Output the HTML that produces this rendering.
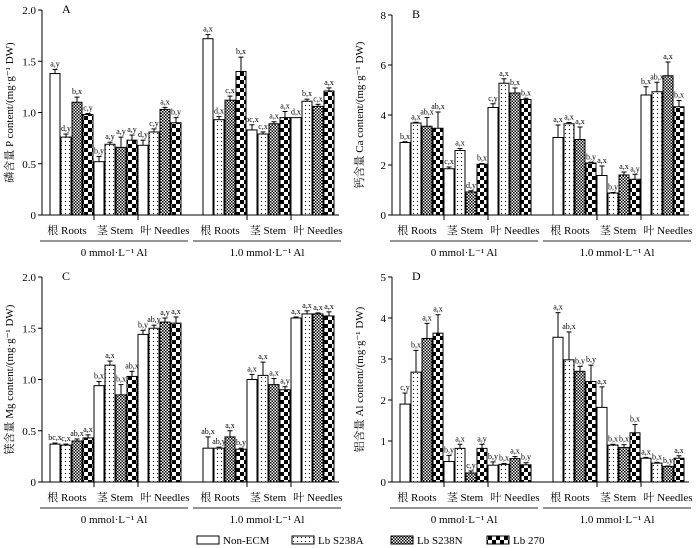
<!DOCTYPE html>
<html><head><meta charset="utf-8"><style>
body{margin:0;background:#fff;}
svg{display:block;font-family:"Liberation Serif","Noto Serif CJK SC",serif;}
</style></head><body>
<svg id="c" width="700" height="548" viewBox="0 0 700 548">
<defs>
<pattern id="pDot" width="4" height="4" patternUnits="userSpaceOnUse"><rect width="4" height="4" fill="#fff"/><rect x="1" y="1" width="1" height="1" fill="#000"/></pattern>
<pattern id="pFine" width="3" height="3" patternUnits="userSpaceOnUse"><rect width="3" height="3" fill="#fff"/><rect width="1.5" height="1.5" fill="#000"/><rect x="1.5" y="1.5" width="1.5" height="1.5" fill="#000"/></pattern>
<pattern id="pBig" width="8" height="8" patternUnits="userSpaceOnUse"><rect width="8" height="8" fill="#fff"/><rect width="4" height="4" fill="#000"/><rect x="4" y="4" width="4" height="4" fill="#000"/></pattern>
</defs>
</svg>
<script>
const series = ["Non-ECM","Lb S238A","Lb S238N","Lb 270"];
const organs = ["根 Roots","茎 Stem","叶 Needles"];
const treatments = ["0 mmol·L⁻¹ Al","1.0 mmol·L⁻¹ Al"];

const pA_vals = [1.38,0.76,1.10,0.98, 0.52,0.69,0.66,0.73, 0.68,0.81,1.03,0.90, 1.72,0.93,1.12,1.40, 0.83,0.79,0.89,0.95, 0.95,1.11,1.06,1.21];
const pA_errs = [0.04,0.03,0.05,0.01, 0.05,0.02,0.10,0.05, 0.05,0.03,0.02,0.05, 0.04,0.03,0.04,0.14, 0.05,0.02,0.02,0.06, 0.0,0.02,0.02,0.03];
const pA_labels = ["a,y","d,y","b,x","c,y","b,y","a,y","a,y","a,y","d,y","c,y","a,x","b,y","a,x","d,x","c,x","b,x","bc,x","c,x","a,x","a,x","d,x","b,x","c,x","a,x"];
const pA_ticks = ["0","0.5","1.0","1.5","2.0"];

const pB_vals = [2.9,3.68,3.55,3.47, 1.85,2.58,0.92,2.03, 4.3,5.27,4.88,4.62, 3.1,3.65,3.02,2.08, 1.58,0.88,1.6,1.43, 4.8,4.93,5.57,4.33];
const pB_errs = [0.03,0.03,0.35,0.65, 0.07,0.08,0.05,0.03, 0.15,0.18,0.2,0.05, 0.5,0.05,0.5,0.03, 0.38,0.02,0.12,0.2, 0.33,0.38,0.55,0.25];
const pB_labels = ["b,x","a,x","ab,x","ab,x","c,x","a,x","d,y","b,x","c,y","a,x","b,x","b,x","a,x","a,x","a,x","b,y","a,x","b,y","a,x","a,y","b,x","ab,x","a,x","b,x"];
const pB_ticks = ["0","2","4","6","8"];

const pC_vals = [0.37,0.36,0.40,0.43, 0.94,1.14,0.85,1.03, 1.44,1.50,1.56,1.55, 0.33,0.33,0.44,0.32, 1.0,1.04,0.95,0.90, 1.60,1.64,1.64,1.62];
const pC_errs = [0.01,0.01,0.02,0.03, 0.04,0.04,0.10,0.05, 0.04,0.03,0.04,0.06, 0.11,0.01,0.06,0.01, 0.05,0.13,0.06,0.03, 0.01,0.03,0.01,0.04];
const pC_labels = ["bc,x","c,x","ab,x","a,x","b,x","a,x","b,x","ab,x","b,y","ab,y","a,y","a,x","ab,x","ab,y","a,x","b,y","a,x","a,x","a,x","a,y","a,x","a,x","a,x","a,x"];
const pC_ticks = ["0","0.5","1.0","1.5","2.0"];

const pD_vals = [1.9,2.68,3.5,3.63, 0.5,0.82,0.22,0.82, 0.41,0.43,0.57,0.42, 3.53,2.98,2.7,2.45, 1.82,0.9,0.84,1.2, 0.58,0.46,0.38,0.58];
const pD_errs = [0.27,0.53,0.37,0.45, 0.15,0.1,0.05,0.1, 0.08,0.02,0.05,0.05, 0.6,0.68,0.12,0.4, 0.5,0.02,0.07,0.2, 0.02,0.02,0.01,0.06];
const pD_labels = ["c,y","b,x","a,x","a,x","b,y","a,x","c,y","a,y","b,y","b,x","a,x","b,y","a,x","ab,x","b,y","b,y","a,x","b,x","b,x","b,x","a,x","b,x","b,y","a,x"];
const pD_ticks = ["0","1","2","3","4","5"];

const fills = ["#fff","url(#pDot)","url(#pFine)","url(#pBig)"];
const organOffsets = [17,65,115];
const NS = "http://www.w3.org/2000/svg";
const svg = document.getElementById('c');
function mk(tag, attrs, parent){const e=document.createElementNS(NS,tag);for(const k in attrs)e.setAttribute(k,attrs[k]);(parent||svg).appendChild(e);return e;}

function panel(p){
  const g = mk('g',{});
  
  
  const max = parseFloat(p.ticks[p.ticks.length-1]);
  const y = v => p.y0 - (v/max)*(p.y0-p.yTop);
  const pitch = 11, bw = 10;
  const gx = [p.ox+8, p.ox+161];
  const xb = i => gx[Math.floor(i/12)] + (i%12)*pitch;
  const ya = mk('line',{x1:p.ox,y1:p.yTop,x2:p.ox,y2:p.y0,stroke:'#000','stroke-width':1},g);
  
  
  p.ticks.forEach(t=>{
    const v=parseFloat(t), yy=y(v);
    mk('line',{x1:p.ox-4,y1:yy,x2:p.ox,y2:yy,stroke:'#000'},g);
    const tl = mk('text',{x:p.ox-6,y:yy+4,'text-anchor':'end','font-size':11},g);
    tl.textContent=t;
    
    
  });
  const xa = mk('line',{x1:p.ox,y1:p.y0,x2:gx[1]+12*pitch+4,y2:p.y0,stroke:'#000'},g);
  
  
  [0,1].forEach(gi=>{
    [4,8].forEach(k=>{const xx=gx[gi]+k*pitch; mk('line',{x1:xx,y1:p.y0,x2:xx,y2:p.y0+5,stroke:'#000'},g);});
    organs.forEach((o,oi)=>{
      const t=mk('text',{x:gx[gi]+organOffsets[oi],y:p.y0+19,'text-anchor':'middle','font-size':11},g);
      t.textContent=o;
      
      
    });
    mk('line',{x1:gx[gi]-10,y1:p.y0+26,x2:gx[gi]+138,y2:p.y0+26,stroke:'#555','stroke-width':1.3},g);
    const tl=mk('text',{x:gx[gi]+64,y:p.y0+41,'text-anchor':'middle','font-size':11},g);
    tl.textContent=treatments[gi];
    
    
  });
  p.vals.forEach((v,i)=>{
    const x=xb(i), top=y(v);
    const r=mk('rect',{x:x,y:top,width:bw,height:p.y0-top,fill:fills[i%4],stroke:'#000','stroke-width':1},g);
    
    
    const et=y(v+p.errs[i]);
    if(p.errs[i]>0){
      mk('line',{x1:x+bw/2,y1:top,x2:x+bw/2,y2:et,stroke:'#000'},g);
      mk('line',{x1:x+bw/2-2.5,y1:et,x2:x+bw/2+2.5,y2:et,stroke:'#000'},g);
    }
    const lt=mk('text',{x:x+bw/2,y:et-3,'text-anchor':'middle','font-size':8},g);
    lt.textContent=p.labels[i];
    
    
  });
  const L=mk('text',{x:p.ox+20,y:p.yTop+3,'font-size':12},g);
  L.textContent=p.letter;
  
  
  const yt=mk('text',{x:0,y:0,'text-anchor':'middle','font-size':11,transform:`translate(${p.ox-29},${(p.y0+p.yTop)/2}) rotate(-90)`},g);
  yt.textContent=p.title;
  
  
}
panel({name:'panel-a-phosphorus',letter:'A',ox:42,y0:215,yTop:10,vals:pA_vals,errs:pA_errs,labels:pA_labels,ticks:pA_ticks,title:'磷含量  P content/(mg·g⁻¹ DW)'});
panel({name:'panel-b-calcium',letter:'B',ox:392,y0:215,yTop:15,vals:pB_vals,errs:pB_errs,labels:pB_labels,ticks:pB_ticks,title:'钙含量  Ca content/(mg·g⁻¹ DW)'});
panel({name:'panel-c-magnesium',letter:'C',ox:42,y0:482,yTop:277,vals:pC_vals,errs:pC_errs,labels:pC_labels,ticks:pC_ticks,title:'镁含量  Mg content/(mg·g⁻¹ DW)'});
panel({name:'panel-d-aluminum',letter:'D',ox:392,y0:482,yTop:277,vals:pD_vals,errs:pD_errs,labels:pD_labels,ticks:pD_ticks,title:'铝含量  Al content/(mg·g⁻¹ DW)'});

const legX=[197,292,391,487];
const lg=mk('g',{});


series.forEach((s,i)=>{
  const r=mk('rect',{x:legX[i],y:536,width:22,height:8,fill:fills[i],stroke:'#000'},lg);
  
  
  const t=mk('text',{x:legX[i]+26,y:544,'font-size':11},lg);
  t.textContent=s;
  
  
});
</script>
</body></html>
